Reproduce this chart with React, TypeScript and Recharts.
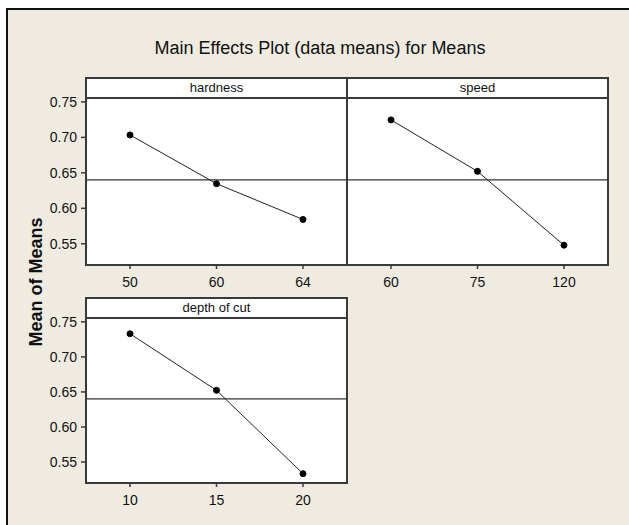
import { LineChart, Line, XAxis, YAxis, ReferenceLine } from "recharts"

const hardnessLevels = ["50", "60", "64"]
const hardnessMeans = [0.7034, 0.6347, 0.5843]

const speedLevels = ["60", "75", "120"]
const speedMeans = [0.7246, 0.6521, 0.548]

const depthLevels = ["10", "15", "20"]
const depthMeans = [0.733, 0.6523, 0.5333]

const grandMean = 0.64
const yTicks = [0.55, 0.6, 0.65, 0.7, 0.75]
const yDomain: [number, number] = [0.5215, 0.7555]

const FONT = "'Liberation Sans', Arial, sans-serif"
const LINE = "#3a3a3a"

const toRows = (levels: string[], means: number[]) =>
  levels.map((level, i) => ({ level, mean: means[i] }))

function Panel({
  left,
  top,
  label,
  levels,
  means,
  showY,
  plotHeight,
}: {
  left: number
  top: number
  label: string
  levels: string[]
  means: number[]
  showY: boolean
  plotHeight: number
}) {
  const yw = showY ? 86 : 0
  const ml = showY ? 0 : 5
  const width = ml + yw + 261 + 5
  const height = 5 + plotHeight + 40
  const plotLeft = left + ml + yw
  const plotTop = top + 5
  return (
    <>
      <div
        style={{
          position: "absolute",
          left: plotLeft - 1,
          top: plotTop - 21,
          width: 263,
          height: plotHeight + 23,
          boxSizing: "border-box",
          border: `2px solid ${LINE}`,
          background: "#fff",
        }}
      >
        <div
          style={{
            height: 18,
            borderBottom: `2px solid ${LINE}`,
            textAlign: "center",
            fontFamily: FONT,
            fontSize: 13,
            lineHeight: "18px",
            color: "#111",
          }}
        >
          {label}
        </div>
      </div>
      <div style={{ position: "absolute", left, top }}>
        <LineChart
          width={width}
          height={height}
          data={toRows(levels, means)}
          margin={{ top: 5, right: 5, bottom: 0, left: ml }}
        >
          <XAxis
            dataKey="level"
            type="category"
            height={40}
            padding={{ left: 44, right: 44 }}
            axisLine={false}
            tickLine={{ stroke: LINE, strokeWidth: 1.5 }}
            tickSize={5}
            tickMargin={8}
            tick={{ fill: "#111", fontSize: 14, fontFamily: FONT }}
          />
          <YAxis
            type="number"
            domain={yDomain}
            ticks={yTicks}
            hide={!showY}
            width={86}
            axisLine={false}
            tickLine={{ stroke: LINE, strokeWidth: 1.5 }}
            tickSize={5}
            tickMargin={4}
            tickFormatter={(v: number) => v.toFixed(2)}
            tick={{ fill: "#111", fontSize: 14, fontFamily: FONT }}
            allowDataOverflow
          />
          <ReferenceLine y={grandMean} stroke="#333" strokeWidth={1.3} />
          <Line
            type="linear"
            dataKey="mean"
            stroke="#222"
            strokeWidth={1}
            dot={{ r: 3, fill: "#000", stroke: "#000", strokeWidth: 1 }}
            isAnimationActive={false}
          />
        </LineChart>
      </div>
    </>
  )
}

export default function App() {
  return (
    <div
      style={{
        position: "absolute",
        left: 0,
        top: 0,
        width: 629,
        height: 525,
        overflow: "hidden",
        background: "#fff",
      }}
    >
      <div
        style={{
          position: "absolute",
          left: 6,
          top: 8,
          width: 700,
          height: 600,
          borderLeft: "2px solid #111",
          borderTop: "2px solid #111",
          background: "#efebe1",
        }}
      />
      <Panel left={0} top={93} label="hardness" levels={hardnessLevels} means={hardnessMeans} showY plotHeight={166} />
      <Panel left={342} top={93} label="speed" levels={speedLevels} means={speedMeans} showY={false} plotHeight={166} />
      <Panel left={0} top={313} label="depth of cut" levels={depthLevels} means={depthMeans} showY plotHeight={164} />
      <svg
        width={629}
        height={525}
        style={{ position: "absolute", left: 0, top: 0, pointerEvents: "none" }}
      >
        <text x={320} y={54} textAnchor="middle" fontFamily={FONT} fontSize={18} fill="#111">
          Main Effects Plot (data means) for Means
        </text>
        <text
          x={0}
          y={0}
          transform="translate(42 282) rotate(-90)"
          textAnchor="middle"
          fontFamily={FONT}
          fontSize={18}
          fontWeight="bold"
          fill="#111"
        >
          Mean of Means
        </text>
      </svg>
    </div>
  )
}
